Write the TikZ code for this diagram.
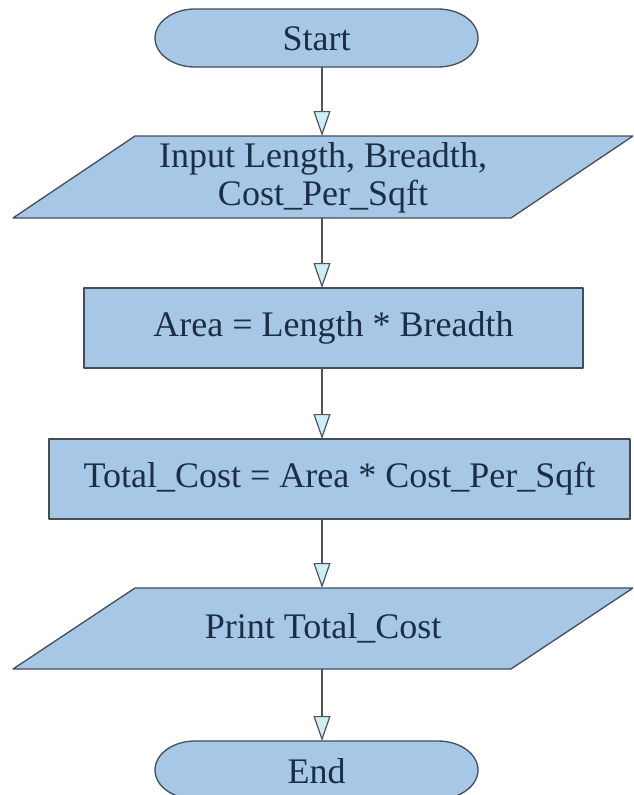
\documentclass[tikz,border=0pt]{standalone}
\usepackage{fontspec}
\setmainfont{Liberation Serif}
\usetikzlibrary{arrows.meta}
\definecolor{boxfill}{RGB}{166,200,230}
\definecolor{boxline}{RGB}{68,76,88}
\definecolor{txt}{RGB}{28,46,70}
\definecolor{arrowline}{RGB}{80,84,88}
\definecolor{tipfill}{RGB}{205,238,246}
\tikzset{
  lbl/.style={text=txt, font=\fontsize{36}{38}\selectfont, align=center, inner sep=0pt, outer sep=0pt},
  shapefill/.style={fill=boxfill, draw=boxline, line width=1.3pt, line join=round},
  boxnode/.style={lbl, shapefill, rectangle},
  flow/.style={draw=arrowline, line width=1.2pt, -{Triangle[width=17pt,length=25pt,fill=tipfill]}},
}
\begin{document}
\begin{tikzpicture}[x=1pt,y=1pt]
\useasboundingbox (0,0) rectangle (633,-795);
\clip (0,0) rectangle (633,-795);
\fill[white] (0,0) rectangle (633,-795);
\coordinate (axis) at (322,0);

% nodes (text holders with the shapes' bounding boxes)
\node[lbl, minimum width=323pt, minimum height=58pt] (start) at (316.5,-38) {};
\node[lbl, minimum width=620pt, minimum height=82pt] (in) at (323,-177) {};
\node[boxnode, minimum width=499pt, minimum height=80pt] (area) at (333.5,-328) {Area = Length * Breadth};
\node[boxnode, minimum width=581pt, minimum height=80pt] (total) at (339.5,-479) {Total\_Cost = Area * Cost\_Per\_Sqft};
\node[lbl, minimum width=620pt, minimum height=81pt] (print) at (323,-628.5) {};
\node[lbl, minimum width=323pt, minimum height=58pt] (end) at (316.5,-770) {};

% terminal shapes
\path[shapefill] ([xshift=40pt]start.north west) -- ([xshift=-40pt]start.north east)
  arc[start angle=90, end angle=-90, x radius=40pt, y radius=29pt]
  -- ([xshift=40pt]start.south west)
  arc[start angle=270, end angle=90, x radius=40pt, y radius=29pt] -- cycle;
\path[shapefill] ([xshift=40pt]end.north west) -- ([xshift=-40pt]end.north east)
  arc[start angle=90, end angle=-90, x radius=40pt, y radius=29pt]
  -- ([xshift=40pt]end.south west)
  arc[start angle=270, end angle=90, x radius=40pt, y radius=29pt] -- cycle;

% input / output parallelograms
\path[shapefill] ([xshift=122pt]in.north west) -- (in.north east)
  -- ([xshift=-122pt]in.south east) -- (in.south west) -- cycle;
\path[shapefill] ([xshift=122pt]print.north west) -- (print.north east)
  -- ([xshift=-122pt]print.south east) -- (print.south west) -- cycle;

% texts on the drawn shapes
\node[lbl] at ([yshift=-1pt]start.center) {Start};
\node[lbl] at ([yshift=-1pt]in.center) {Input Length, Breadth,\\Cost\_Per\_Sqft};
\node[lbl] at (print.center) {Print Total\_Cost};
\node[lbl] at ([yshift=-1pt]end.center) {End};

% connectors
\draw[flow] (start.south -| axis) -- (in.north -| axis);
\draw[flow] (in.south -| axis) -- (area.north -| axis);
\draw[flow] (area.south -| axis) -- (total.north -| axis);
\draw[flow] (total.south -| axis) -- (print.north -| axis);
\draw[flow] (print.south -| axis) -- (end.north -| axis);
\end{tikzpicture}
\end{document}
